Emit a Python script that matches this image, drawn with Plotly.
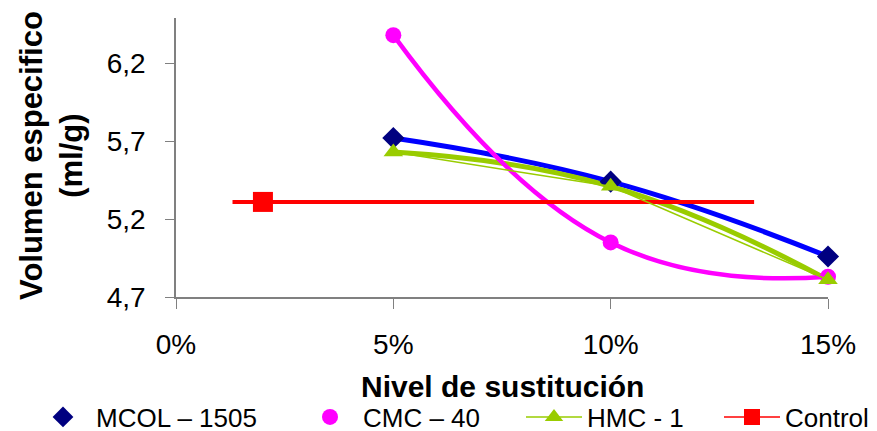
import plotly.graph_objects as go

# ---- data ----
levels = [0.05, 0.10, 0.15]
mcol_1505 = [5.72, 5.44, 4.96]
cmc_40 = [6.38, 5.05, 4.83]
hmc_1 = [5.63, 5.41, 4.81]
control_level = [0.02]
control_value = [5.31]
control_span = [0.013, 0.133]

x_ticks = [0, 0.05, 0.10, 0.15]
y_ticks = [4.7, 5.2, 5.7, 6.2]

names = ["MCOL – 1505", "CMC – 40", "HMC - 1", "Control"]

FONT = "Liberation Sans, Arial, sans-serif"

L, R, T, B = 176, 49, 18, 134
W, H = 877, 431
pw, ph = W - L - R, H - T - B

fig = go.Figure()

# lines (drawn first)
fig.add_trace(go.Scatter(x=levels, y=mcol_1505, mode="lines", line=dict(color="#0000FF", width=5, shape="spline", smoothing=1.3),
                         showlegend=False, hoverinfo="skip", cliponaxis=False))
fig.add_trace(go.Scatter(x=levels, y=hmc_1, mode="lines", line=dict(color="#99CC00", width=5, shape="spline", smoothing=1.3),
                         showlegend=False, hoverinfo="skip", cliponaxis=False))
fig.add_trace(go.Scatter(x=levels, y=cmc_40, mode="lines", line=dict(color="#FF00FF", width=4.5, shape="spline", smoothing=1.3),
                         showlegend=False, hoverinfo="skip", cliponaxis=False))
fig.add_trace(go.Scatter(x=control_span, y=[control_value[0]] * len(control_span), mode="lines",
                         line=dict(color="#FF0000", width=4), showlegend=False, hoverinfo="skip", cliponaxis=False))

# markers / legend entries (each in its own legend for exact placement)
fig.add_trace(go.Scatter(x=levels, y=cmc_40, mode="markers", name=names[1], legend="legend2",
                         marker=dict(symbol="circle", size=16, color="#FF00FF"), cliponaxis=False))
fig.add_trace(go.Scatter(x=levels, y=mcol_1505, mode="markers", name=names[0], legend="legend",
                         marker=dict(symbol="diamond", size=17, color="#000080"), cliponaxis=False))
fig.add_trace(go.Scatter(x=levels, y=hmc_1, mode="lines+markers", name=names[2], legend="legend3",
                         line=dict(color="#99CC00", width=1.5),
                         marker=dict(symbol="triangle-up", size=17, color="#99CC00"), cliponaxis=False))
fig.add_trace(go.Scatter(x=control_level, y=control_value, mode="lines+markers", name=names[3], legend="legend4",
                         line=dict(color="#FF0000", width=1.5),
                         marker=dict(symbol="square", size=20, color="#FF0000"), cliponaxis=False))

legend_starts = [30, 297, 521, 719]
legend_y = (H - B - 417) / ph


def leg(px):
    return dict(orientation="h", x=(px - L) / pw, xanchor="left", y=legend_y, yanchor="middle",
                font=dict(size=26, family=FONT), itemwidth=56, bgcolor="rgba(0,0,0,0)", borderwidth=0)


fig.update_layout(
    width=W, height=H,
    margin=dict(l=L, r=R, t=T, b=B, pad=0, autoexpand=False),
    paper_bgcolor="white", plot_bgcolor="white",
    separators=",.",
    font=dict(family=FONT, color="black", size=26),
    showlegend=True,
    legend=leg(legend_starts[0]),
    legend2=leg(legend_starts[1]),
    legend3=leg(legend_starts[2]),
    legend4=leg(legend_starts[3]),
    xaxis=dict(range=[0, 0.15], tickvals=x_ticks, tickformat=".0%", showgrid=False, zeroline=False,
               showline=True, linecolor="#808080", linewidth=1.5, ticks="outside", ticklen=10, tickcolor="#808080",
               tickfont=dict(size=28, family=FONT), ticklabelstandoff=12),
    yaxis=dict(range=[4.7, 6.49], tickvals=y_ticks, tickformat=".1f", showgrid=False, zeroline=False,
               showline=True, linecolor="#808080", linewidth=1.5, ticks="outside", ticklen=9, tickcolor="#808080",
               tickfont=dict(size=28, family=FONT), ticklabelstandoff=14),
    annotations=[
        dict(text="<b>Volumen especifico</b><br><b>(ml/g)</b>", textangle=-90, xref="paper", yref="paper",
             x=(51 - L) / pw, y=(H - B - 156) / ph, xanchor="center", yanchor="middle", showarrow=False,
             font=dict(size=31, family=FONT)),
        dict(text="<b>Nivel de sustitución</b>", xref="paper", yref="paper",
             x=0.5, y=(H - B - 386) / ph, xanchor="center", yanchor="middle", showarrow=False,
             font=dict(size=30, family=FONT)),
    ],
)

fig.write_html("out.html")
